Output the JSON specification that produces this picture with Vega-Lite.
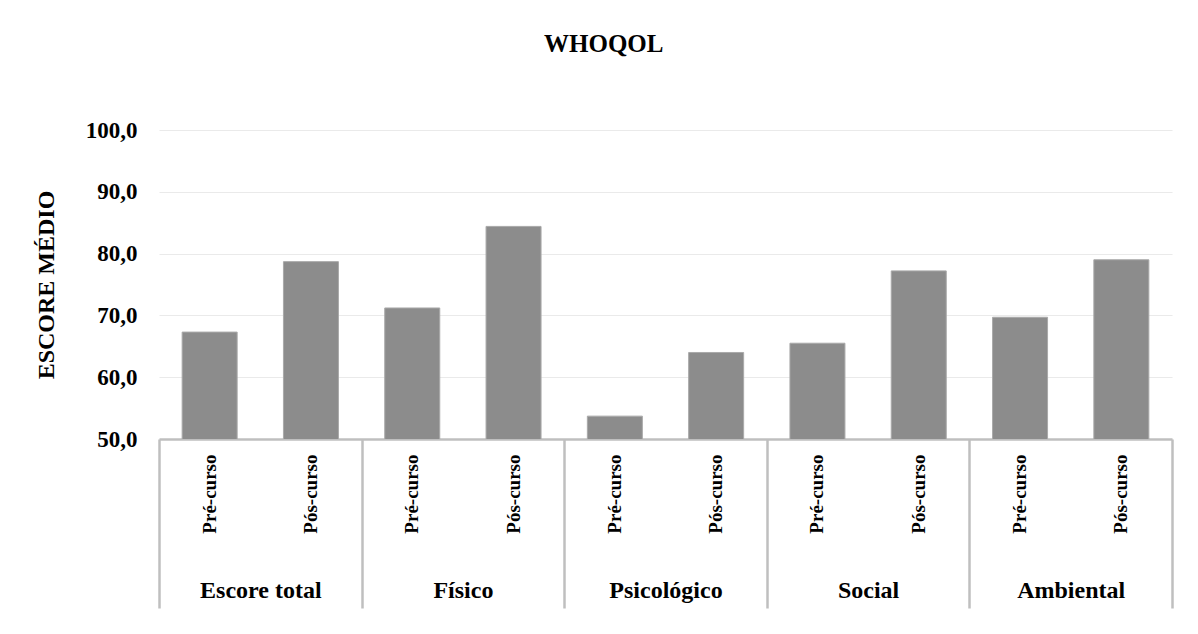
{
  "$schema": "https://vega.github.io/schema/vega-lite/v6.json",
  "width": 1013,
  "height": 309,
  "padding": {"left": 34, "top": 32, "right": 24, "bottom": 4},
  "background": "#ffffff",
  "title": {
    "text": "WHOQOL",
    "font": "Liberation Serif",
    "fontSize": 25,
    "fontWeight": "bold",
    "color": "#000000",
    "anchor": "middle",
    "frame": "bounds",
    "offset": 62
  },
  "data": {
    "values": [
      {"barra": "Escore total|Pré-curso", "dominio": "Escore total", "escore": 67.3},
      {"barra": "Escore total|Pós-curso", "dominio": "Escore total", "escore": 78.7},
      {"barra": "Físico|Pré-curso", "dominio": "Físico", "escore": 71.2},
      {"barra": "Físico|Pós-curso", "dominio": "Físico", "escore": 84.4},
      {"barra": "Psicológico|Pré-curso", "dominio": "Psicológico", "escore": 53.7},
      {"barra": "Psicológico|Pós-curso", "dominio": "Psicológico", "escore": 64.0},
      {"barra": "Social|Pré-curso", "dominio": "Social", "escore": 65.5},
      {"barra": "Social|Pós-curso", "dominio": "Social", "escore": 77.2},
      {"barra": "Ambiental|Pré-curso", "dominio": "Ambiental", "escore": 69.7},
      {"barra": "Ambiental|Pós-curso", "dominio": "Ambiental", "escore": 79.0}
    ]
  },
  "layer": [
    {
      "mark": {"type": "bar", "color": "#8c8c8c", "stroke": "#a9a9a9", "strokeWidth": 1, "clip": true},
      "encoding": {
        "x": {
          "field": "barra",
          "type": "nominal",
          "sort": null,
          "scale": {"paddingInner": 0.457, "paddingOuter": 0.2285},
          "axis": {
            "orient": "bottom",
            "title": null,
            "labelExpr": "split(datum.label, '|')[1]",
            "labelAngle": 270,
            "labelFont": "Liberation Serif",
            "labelFontSize": 19,
            "labelFontWeight": "bold",
            "labelColor": "#000000",
            "labelPadding": 15,
            "ticks": false,
            "domain": true,
            "domainColor": "#bfbfbf",
            "domainWidth": 2.5,
            "grid": false
          }
        },
        "y": {
          "field": "escore",
          "type": "quantitative",
          "scale": {"domain": [50, 100], "nice": false, "zero": false},
          "axis": {
            "title": "ESCORE MÉDIO",
            "titleFont": "Liberation Serif",
            "titleFontSize": 24,
            "titleFontWeight": "bold",
            "titleColor": "#000000",
            "titlePadding": 27,
            "values": [50, 60, 70, 80, 90, 100],
            "labelExpr": "replace(format(datum.value, '.1f'), '.', ',')",
            "labelFont": "Liberation Serif",
            "labelFontSize": 23,
            "labelFontWeight": "bold",
            "labelColor": "#000000",
            "labelPadding": 22,
            "ticks": false,
            "domain": false,
            "grid": true,
            "gridColor": "#eaeaea",
            "gridWidth": 1.2
          }
        }
      }
    },
    {
      "mark": {"type": "rule", "strokeOpacity": 0},
      "encoding": {
        "x": {
          "field": "dominio",
          "type": "nominal",
          "sort": null,
          "scale": {"paddingInner": 0, "paddingOuter": 0},
          "axis": {
            "orient": "bottom",
            "title": null,
            "domain": false,
            "grid": false,
            "ticks": true,
            "tickBand": "extent",
            "tickSize": 169,
            "tickColor": "#bfbfbf",
            "tickWidth": 2.5,
            "labelAngle": 0,
            "labelFont": "Liberation Serif",
            "labelFontSize": 24,
            "labelFontWeight": "bold",
            "labelColor": "#000000",
            "labelPadding": -30
          }
        }
      }
    }
  ],
  "resolve": {"scale": {"x": "independent"}, "axis": {"x": "independent"}},
  "config": {"view": {"stroke": null}}
}
